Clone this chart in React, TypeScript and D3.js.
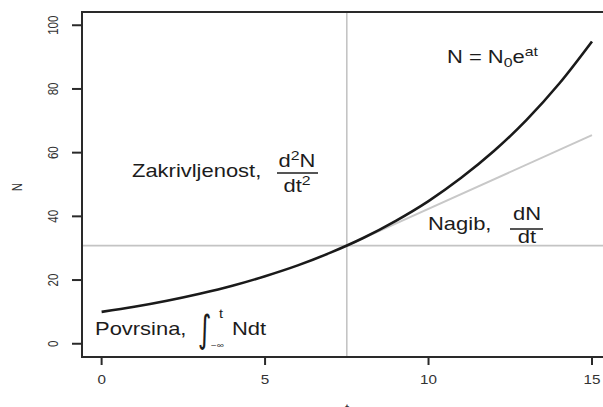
import React from "react";
import * as d3 from "d3";

const tValues = [0, 1, 2, 3, 4, 5, 6, 7, 8, 9, 10, 11, 12, 13, 14, 15];
const nValues = [10.0, 11.6, 13.5, 15.7, 18.2, 21.2, 24.6, 28.6, 33.2, 38.6, 44.8, 52.1, 60.5, 70.3, 81.7, 94.9];
const tangentT = [7.5, 15];
const tangentN = [30.8, 65.5];
const refT = 7.5;
const refN = 30.8;
const xTicks = [0, 5, 10, 15];
const yTicks = [0, 20, 40, 60, 80, 100];

const W = 603;
const H = 407;
const SX = 1.22;
const FONT = "'Liberation Sans', Arial, Helvetica, sans-serif";
const TXT = "#1c1c1c";

export default function App() {
  const x = d3.scaleLinear().domain([-0.6, 15.6]).range([82, 611.6]);
  const y = d3.scaleLinear().domain([-4.16, 104.16]).range([357, 12]);

  const curvePts = tValues.map((t, i) => [t, nValues[i]] as [number, number]);
  const line = d3
    .line<[number, number]>()
    .x((d) => x(d[0]))
    .y((d) => y(d[1]))
    .curve(d3.curveCatmullRom.alpha(0.5));
  const tangentPts = tangentT.map((t, i) => [t, tangentN[i]] as [number, number]);
  const straight = d3
    .line<[number, number]>()
    .x((d) => x(d[0]))
    .y((d) => y(d[1]));

  const st = (px: number, py: number, extra = "") => `translate(${px},${py}) scale(${SX},1)${extra}`;

  return (
    <svg
      width={W}
      height={H}
      style={{ position: "absolute", left: 0, top: 0, background: "#fff" }}
      fontFamily={FONT}
    >
      <rect x={0} y={0} width={W} height={H} fill="#fff" />
      {/* reference lines */}
      <line x1={x(refT)} x2={x(refT)} y1={12} y2={357} stroke="#c4c4c4" strokeWidth={1.6} />
      <line x1={82} x2={611.6} y1={y(refN)} y2={y(refN)} stroke="#c4c4c4" strokeWidth={1.6} />
      <path d={straight(tangentPts) || ""} fill="none" stroke="#c8c8c8" strokeWidth={2} />
      <path d={line(curvePts) || ""} fill="none" stroke="#1a1a1a" strokeWidth={2.6} />
      {/* box */}
      <rect x={82} y={12} width={611.6 - 82} height={345} fill="none" stroke="#2a2a2a" strokeWidth={2} />
      {/* y axis */}
      {yTicks.map((v) => (
        <g key={"y" + v}>
          <line x1={72} x2={82} y1={y(v)} y2={y(v)} stroke="#2a2a2a" strokeWidth={2} />
          <text
            transform={st(58, y(v), " rotate(-90)")}
            textAnchor="middle"
            fontSize={11.5}
            fill="#333"
          >
            {v}
          </text>
        </g>
      ))}
      {/* x axis */}
      {xTicks.map((v) => (
        <g key={"x" + v}>
          <line x1={x(v)} x2={x(v)} y1={357} y2={365} stroke="#2a2a2a" strokeWidth={2} />
          <text transform={st(x(v), 384)} textAnchor="middle" fontSize={12.5} fill="#333">
            {v}
          </text>
        </g>
      ))}
      <text transform={st(347, 413)} textAnchor="middle" fontSize={12.5} fill="#333">
        t
      </text>
      <text transform={st(22, 187, " rotate(-90)")} textAnchor="middle" fontSize={11.5} fill="#333">
        N
      </text>

      {/* N = N0 e^at */}
      <text transform={st(447, 63)} fontSize={18} fill={TXT}>
        N = N
        <tspan fontSize={13} dy={4}>0</tspan>
        <tspan dy={-4}>e</tspan>
        <tspan fontSize={13} dy={-7}>at</tspan>
      </text>

      {/* Zakrivljenost */}
      <text transform={st(132, 177)} fontSize={18} fill={TXT}>
        Zakrivljenost,
      </text>
      <text transform={st(297, 167)} textAnchor="middle" fontSize={18} fill={TXT}>
        d<tspan fontSize={13} dy={-7}>2</tspan>
        <tspan dy={7}>N</tspan>
      </text>
      <line x1={277} x2={318} y1={173} y2={173} stroke={TXT} strokeWidth={1.4} />
      <text transform={st(297, 192)} textAnchor="middle" fontSize={18} fill={TXT}>
        dt<tspan fontSize={13} dy={-7}>2</tspan>
      </text>

      {/* Nagib */}
      <text transform={st(428, 229.5)} fontSize={18} fill={TXT}>
        Nagib,
      </text>
      <text transform={st(527, 220)} textAnchor="middle" fontSize={18} fill={TXT}>
        dN
      </text>
      <line x1={510} x2={543} y1={229} y2={229} stroke={TXT} strokeWidth={1.4} />
      <text transform={st(527, 243)} textAnchor="middle" fontSize={18} fill={TXT}>
        dt
      </text>

      {/* Povrsina */}
      <text transform={st(95, 335)} fontSize={18} fill={TXT}>
        Povrsina,
      </text>
      <text transform={`translate(198,342) scale(1,1.45)`} fontSize={26} fill={TXT} fontFamily="'DejaVu Sans', sans-serif">
        ∫
      </text>
      <text transform={st(219, 318)} fontSize={12} fill={TXT}>
        t
      </text>
      <text transform={st(211, 348)} fontSize={8} fill={TXT}>
        −∞
      </text>
      <text transform={st(232, 335)} fontSize={18} fill={TXT}>
        Ndt
      </text>
    </svg>
  );
}
